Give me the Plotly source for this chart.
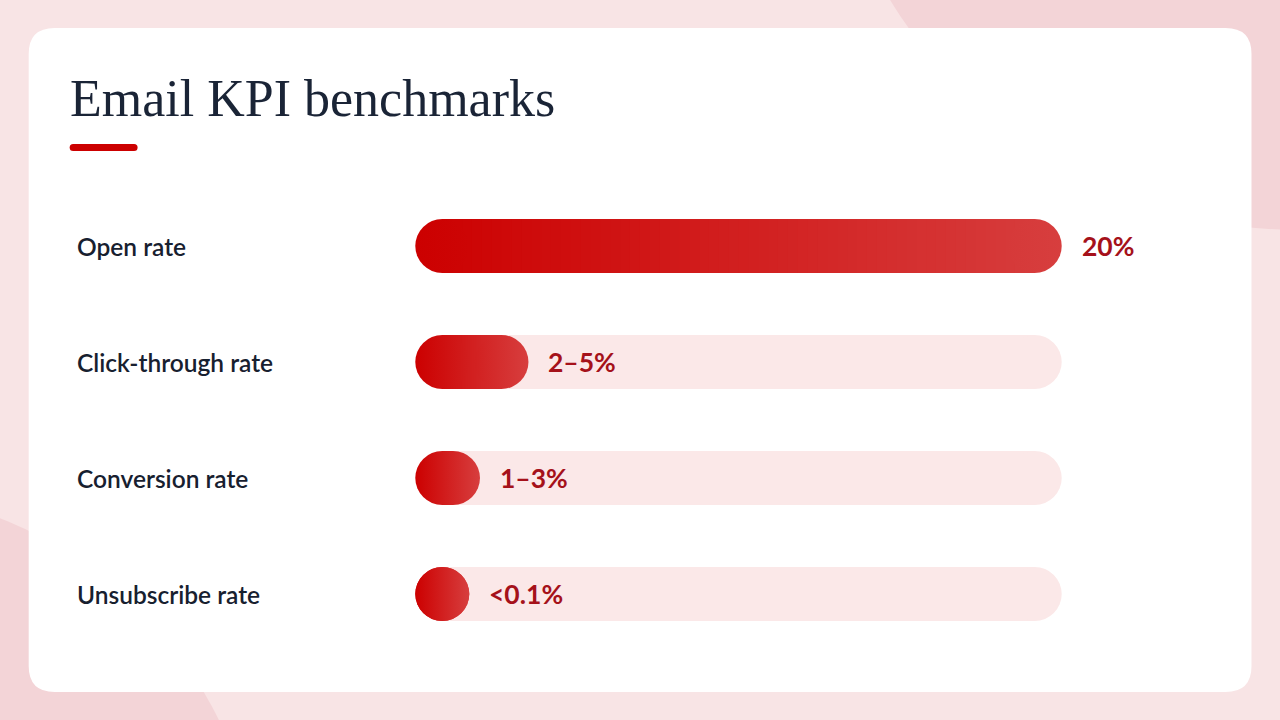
import plotly.graph_objects as go

# ---------------- data ----------------
categories = ["Open rate", "Click-through rate", "Conversion rate", "Unsubscribe rate"]
values = [20.0, 3.5, 2.0, 0.1]          # bar length on a 0-20 % scale
value_labels = ["20%", "2–5%", "1–3%", "<0.1%"]
scale_max = 20.0
title_text = "Email KPI benchmarks"

# ---------------- layout geometry (pixels) ----------------
W, H = 1280, 720
TRACK_X0, TRACK_X1 = 415, 1062          # pixel span of 0..scale_max
PXU = (TRACK_X1 - TRACK_X0) / scale_max  # pixels per unit
X_LO, X_HI = -1.0, scale_max + 1.0
ROW0, ROW_STEP = 246, 116               # centre of first row, row spacing
BAR_PX = 54
R = (BAR_PX / 2) / PXU                  # end-cap radius in data units

ML = TRACK_X0 + X_LO * PXU
PW = (X_HI - X_LO) * PXU
MR = W - ML - PW
MT = ROW0 - ROW_STEP / 2
PH = ROW_STEP * len(categories)
MB = H - MT - PH


def px(x):
    return (x - ML) / PW


def py(y):
    return (H - MB - y) / PH


def rrect(x0, y0, x1, y1, r):
    """rounded rectangle path in paper coords from pixel corners"""
    pts = [
        f"M {px(x0 + r)},{py(y0)}",
        f"L {px(x1 - r)},{py(y0)}",
        f"Q {px(x1)},{py(y0)} {px(x1)},{py(y0 + r)}",
        f"L {px(x1)},{py(y1 - r)}",
        f"Q {px(x1)},{py(y1)} {px(x1 - r)},{py(y1)}",
        f"L {px(x0 + r)},{py(y1)}",
        f"Q {px(x0)},{py(y1)} {px(x0)},{py(y1 - r)}",
        f"L {px(x0)},{py(y0 + r)}",
        f"Q {px(x0)},{py(y0)} {px(x0 + r)},{py(y0)}",
        "Z",
    ]
    return " ".join(pts)


C0 = (204, 0, 0)
C1 = (215, 62, 62)


def grad(t):
    t = max(0.0, min(1.0, t))
    return "rgb(%d,%d,%d)" % tuple(round(a + (b - a) * t) for a, b in zip(C0, C1))


TRACK = "#FBE8E8"
lengths = [max(v, 2 * R) for v in values]
bw = BAR_PX / ROW_STEP

fig = go.Figure()

# ---- track: straight body + right round cap (left cap is always under the value bar) ----
fig.add_trace(go.Bar(y=categories, x=[scale_max - 2 * R] * 4, base=[R] * 4, orientation="h",
                     width=bw, marker=dict(color=TRACK, line=dict(width=0))))
cap_rows = [c for c, L in zip(categories, lengths) if L < scale_max]
fig.add_trace(go.Scatter(y=cap_rows, x=[scale_max - R] * len(cap_rows), mode="markers",
                         marker=dict(symbol="circle", size=BAR_PX, color=TRACK, line=dict(width=0))))

# ---- value bars: gradient round caps ----
fig.add_trace(go.Scatter(
    y=categories, x=[R] * 4, mode="markers",
    marker=dict(symbol="circle", size=BAR_PX, line=dict(width=0),
                color=[grad(0) for L in lengths],
                gradient=dict(type="horizontal", color=[grad(2 * R / L) for L in lengths]))))
fig.add_trace(go.Scatter(
    y=categories, x=[L - R for L in lengths], mode="markers",
    marker=dict(symbol="circle", size=BAR_PX, line=dict(width=0),
                color=[grad(1 - 2 * R / L) for L in lengths],
                gradient=dict(type="horizontal", color=[grad(1) for L in lengths]))))

# ---- value bars: gradient body (overlapping slices, left to right) ----
N = 60
for k in range(N):
    bases, xs, cols = [], [], []
    for L in lengths:
        mid = L - 2 * R
        seg = mid / N
        bases.append(R + seg * k)
        xs.append(seg * (1.8 if k < N - 1 else 1.0))
        cols.append(grad((R + seg * (k + 0.5)) / L))
    fig.add_trace(go.Bar(y=categories, x=xs, base=bases, orientation="h", width=bw,
                         marker=dict(color=cols, line=dict(width=0))))

annotations = []
for cat, L, lab in zip(categories, lengths, value_labels):
    annotations.append(dict(x=px(74), xref="paper", y=cat, yref="y", text=cat,
                            xanchor="left", yanchor="middle", showarrow=False,
                            font=dict(family="Lato", size=24.5, color="#17202F", weight=600)))
    annotations.append(dict(x=L, xref="x", y=cat, yref="y", text=lab, xshift=18,
                            xanchor="left", yanchor="middle", showarrow=False,
                            font=dict(family="Lato", size=26.5, color="#A5111A", weight=700)))

annotations.append(dict(x=px(67), xref="paper", y=py(99), yref="paper", text=title_text,
                        xanchor="left", yanchor="middle", showarrow=False,
                        font=dict(family="Liberation Serif", size=52, color="#1A2436")))

shapes = [
    # background blobs
    dict(type="circle", xref="paper", yref="paper", layer="below", line=dict(width=0),
         fillcolor="#F3D4D7", x0=px(1300 - 480), x1=px(1300 + 480), y0=py(-250 + 480), y1=py(-250 - 480)),
    dict(type="circle", xref="paper", yref="paper", layer="below", line=dict(width=0),
         fillcolor="#F3D4D7", x0=px(-150 - 410), x1=px(-150 + 410), y0=py(900 + 410), y1=py(900 - 410)),
    # card
    dict(type="path", xref="paper", yref="paper", layer="below", line=dict(width=0),
         fillcolor="#FFFFFF", path=rrect(28, 28, 1252, 692, 26)),
    # title underline
    dict(type="path", xref="paper", yref="paper", layer="below", line=dict(width=0),
         fillcolor="#CC0000", path=rrect(69, 144, 137, 151, 3.5)),
]

fig.update_layout(
    width=W, height=H,
    margin=dict(l=ML, r=MR, t=MT, b=MB, pad=0),
    paper_bgcolor="#F8E4E5", plot_bgcolor="rgba(0,0,0,0)",
    barmode="overlay", showlegend=False, hovermode=False,
    xaxis=dict(range=[X_LO, X_HI], visible=False, fixedrange=True),
    yaxis=dict(categoryorder="array", categoryarray=categories, range=[len(categories) - 0.5, -0.5],
               visible=False, fixedrange=True),
    annotations=annotations, shapes=shapes,
)

fig.write_html("out.html", config={"displayModeBar": False},
               post_script="document.body.style.margin='0';document.body.style.overflow='hidden';")
